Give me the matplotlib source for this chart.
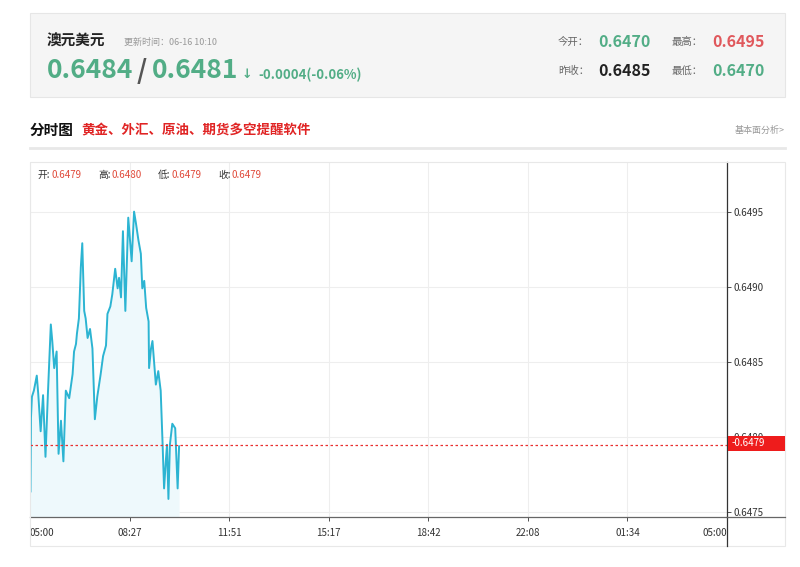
import matplotlib
matplotlib.use("Agg")
import matplotlib.pyplot as plt
from matplotlib.patches import Rectangle
from matplotlib.lines import Line2D

plt.rcParams['font.family'] = ['Noto Sans CJK SC', 'DejaVu Sans']

# minutes after 05:00 and price
minutes = [1, 2, 4, 8, 14, 17, 22, 27, 32, 37, 43, 46, 50, 55, 59, 64, 69, 74,
           81, 88, 91, 95, 97, 101, 105, 108, 112, 115, 119, 124, 129, 134, 139,
           146, 151, 157, 160, 166, 170, 176, 181, 184, 188, 192, 197, 203, 210,
           215, 219, 224, 229, 232, 236, 240, 245, 246, 250, 253, 260, 265, 270,
           274, 277, 281, 283, 286, 289, 294, 300, 305, 308]
prices = [0.64764, 0.64813, 0.64827, 0.64831, 0.64841, 0.64829, 0.64804, 0.64828,
          0.64787, 0.64829, 0.64875, 0.64864, 0.64846, 0.64857, 0.64789, 0.64811,
          0.64784, 0.64831, 0.64826, 0.64842, 0.64857, 0.64862, 0.64869, 0.64879,
          0.64913, 0.64929, 0.64884, 0.64879, 0.64866, 0.64872, 0.64859, 0.64812,
          0.64827, 0.64842, 0.64854, 0.64861, 0.64882, 0.64887, 0.64895, 0.64912,
          0.64899, 0.64906, 0.64893, 0.64937, 0.64884, 0.64946, 0.64917, 0.64950,
          0.64942, 0.64931, 0.64922, 0.64899, 0.64904, 0.64886, 0.64877, 0.64846,
          0.64859, 0.64864, 0.64835, 0.64844, 0.64831, 0.64795, 0.64766, 0.64786,
          0.64795, 0.64759, 0.64795, 0.64809, 0.64806, 0.64766, 0.64794]

last_price = 0.647948
y_ticks = [0.6475, 0.6480, 0.6485, 0.6490, 0.6495]
x_labels = ['05:00', '08:27', '11:51', '15:17', '18:42', '22:08', '01:34', '05:00']

green = '#52ad86'
red = '#e0585c'
line_c = '#2cb4d2'

fig = plt.figure(figsize=(8, 5.67), dpi=100)

def P(x, y):
    return x / 800, 1 - y / 567

# header box
fig.add_artist(Rectangle(P(30, 97), 755 / 800, 84 / 567, transform=fig.transFigure,
                         facecolor='#f5f5f5', edgecolor='#e6e6e6', lw=0.8, zorder=0))
fig.text(*P(47, 41), '澳元美元', fontsize=10.5, fontweight='bold', color='#222', va='center')
fig.text(*P(124, 42), '更新时间：06-16 10:10', fontsize=6.5, color='#999', va='center')
fig.text(*P(47, 71), '0.6484', fontsize=19, fontweight='bold', color=green, va='center')
fig.text(*P(137, 71), '/', fontsize=19, fontweight='bold', color='#555', va='center')
fig.text(*P(152, 71), '0.6481', fontsize=19, fontweight='bold', color=green, va='center')
fig.text(*P(242, 75), '↓', fontsize=9, fontweight='bold', color=green, va='center',
         family='DejaVu Sans')
fig.text(*P(258, 75), '-0.0004(-0.06%)', fontsize=9.5, fontweight='bold', color=green,
         va='center')

right_info = [(558, 42, '今开：', '0.6470', green), (672, 42, '最高：', '0.6495', red),
              (558, 71, '昨收：', '0.6485', '#222'), (672, 71, '最低：', '0.6470', green)]
for x, y, lab, val, c in right_info:
    fig.text(*P(x, y), lab, fontsize=7.5, color='#666', va='center')
    fig.text(*P(x + 40, y), val, fontsize=11.5, fontweight='bold', color=c, va='center')

# section title
fig.text(*P(30, 130), '分时图', fontsize=10.5, fontweight='bold', color='#111', va='center')
fig.text(*P(81, 130), '黄金、外汇、原油、期货多空提醒软件', fontsize=9.7, fontweight='bold',
         color='#e02424', va='center')
fig.text(*P(785, 130), '基本面分析>', fontsize=6.5, color='#999', va='center', ha='right')
fig.add_artist(Line2D([30 / 800, 785 / 800], [1 - 148 / 567] * 2, color='#e8e8e8', lw=2))

# chart frame
fig.add_artist(Rectangle(P(30, 546), 755 / 800, 384 / 567, transform=fig.transFigure,
                         fill=False, edgecolor='#e8e8e8', lw=0.8))

ax = fig.add_axes([30 / 800, 1 - 517 / 567, 697 / 800, 355 / 567])
ax.set_xlim(0, 1440)
ax.set_ylim(0.64747, 0.64983)
ax.fill_between(minutes, prices, 0.64747, color='#eef9fc', lw=0)
ax.plot(minutes, prices, color=line_c, lw=1.4)
ax.axhline(last_price, color='#e83030', lw=0.9, ls=(0, (2, 2)), zorder=3)

xt = [i * 1440 / 7 for i in range(8)]
ax.set_xticks(xt)
ax.set_xticklabels(x_labels)
for i, lab in enumerate(ax.get_xticklabels()):
    if i == 0:
        lab.set_ha('left')
    elif i == 7:
        lab.set_ha('right')
ax.set_yticks(y_ticks)
ax.set_yticklabels([f'{v:.4f}' for v in y_ticks])
ax.yaxis.tick_right()
ax.tick_params(axis='both', labelsize=7, colors='#333', length=3, width=0.6, pad=2)
ax.tick_params(axis='x', pad=5)
ax.grid(True, color='#eeeeee', lw=0.8)
ax.set_axisbelow(True)
for s in ['top', 'left']:
    ax.spines[s].set_visible(False)
ax.spines['right'].set_color('#333')
ax.spines['bottom'].set_color('#666')
ax.spines['right'].set_linewidth(0.9)
ax.spines['bottom'].set_linewidth(0.9)

# extended axis lines
fig.add_artist(Line2D([727 / 800] * 2, [1 - 517 / 567, 1 - 546 / 567], color='#333', lw=0.9))
fig.add_artist(Line2D([727 / 800, 785 / 800], [1 - 517 / 567] * 2, color='#666', lw=0.9))

# info line
info = [('开:', '0.6479'), ('高:', '0.6480'), ('低:', '0.6479'), ('收:', '0.6479')]
x0 = 38
for lab, val in info:
    fig.text(*P(x0, 175), lab, fontsize=7, color='#333', va='center')
    fig.text(*P(x0 + 13, 175), val, fontsize=7, color='#e04a3a', va='center')
    x0 += 60

# last price box
fig.add_artist(Rectangle(P(728, 451), 57 / 800, 15 / 567, transform=fig.transFigure,
                         facecolor='#ee1c1c', edgecolor='none', zorder=5))
fig.text(*P(732, 443.5), '-0.6479', fontsize=7, color='white', va='center', zorder=6)

fig.savefig('out.png', dpi=100, facecolor='white')
